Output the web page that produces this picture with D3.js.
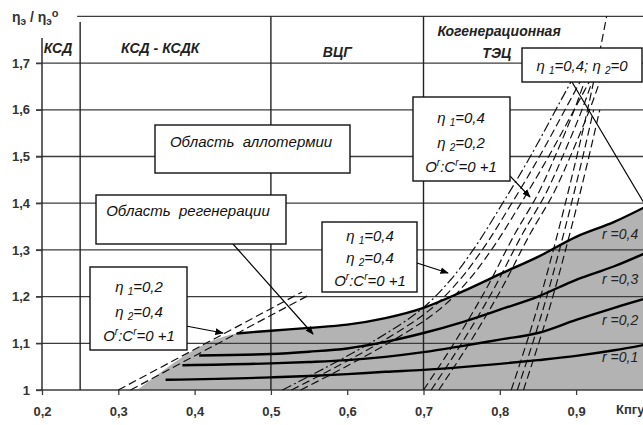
<!DOCTYPE html>
<html><head><meta charset="utf-8">
<script src="https://cdn.jsdelivr.net/npm/d3@7"></script>
<style>
html,body{margin:0;padding:0;background:#fff;}
svg{display:block;font-family:"Liberation Sans",Arial,sans-serif;}
.pre{white-space:pre;}
</style></head><body>
<svg id="chart" width="643" height="425"></svg>
<script>
// Axis ticks
const xTicks = [0.2, 0.3, 0.4, 0.5, 0.6, 0.7, 0.8, 0.9];
const yTicks = [1, 1.1, 1.2, 1.3, 1.4, 1.5, 1.6, 1.7];

// Plant-type zones along Kpgu
const zoneBounds = [0.25, 0.5, 0.7];
const zoneNames = ["КСД", "КСД - КСДК", "ВЦГ", "Когенерационная", "ТЭЦ"];
const zoneNameX = [0.221, 0.355, 0.587, 0.799, 0.796];
const zoneNameY = [1.722, 1.722, 1.713, 1.758, 1.711];

// r-curves: first point of each curve (on the regeneration boundary), then a common Kpgu grid
const rNames = ["r =0,1", "r =0,2", "r =0,3", "r =0,4"];
const rStartX = [0.362, 0.384, 0.406, 0.455];
const rStartY = [1.022, 1.053, 1.074, 1.121];
const kpgu = [0.5, 0.55, 0.6, 0.65, 0.7, 0.75, 0.8, 0.85, 0.9, 0.95, 1.0];
const r01 = [1.027, 1.030, 1.034, 1.039, 1.043, 1.049, 1.056, 1.064, 1.073, 1.085, 1.100];
const r02 = [1.057, 1.060, 1.064, 1.071, 1.081, 1.094, 1.108, 1.122, 1.150, 1.176, 1.200];
const r03 = [1.077, 1.082, 1.089, 1.103, 1.122, 1.145, 1.172, 1.200, 1.236, 1.265, 1.300];
const r04 = [1.127, 1.133, 1.140, 1.154, 1.176, 1.210, 1.248, 1.285, 1.328, 1.360, 1.400];
const rSeries = [r01, r02, r03, r04];
const rLabelY = [1.071, 1.150, 1.237, 1.335];

// Lower corner of the regeneration area
const regionFootX = 0.325;

// Dashed boundaries (Kpgu, ηэ/ηэ°) for the η1/η2 combinations
// η1=0,2; η2=0,4
const dashA1 = [[0.300, 1.0], [0.541, 1.210]];
const dashA2 = [[0.316, 1.0], [0.552, 1.205]];
// η1=0,4; η2=0,4
const dashB = [[0.515, 1.0], [0.580, 1.055], [0.640, 1.110], [0.695, 1.170], [0.735, 1.235],
               [0.765, 1.300], [0.800, 1.390], [0.840, 1.500], [0.880, 1.620], [0.900, 1.680]];
const dashBShift = [0, 0.012, 0.024];
// η1=0,4; η2=0,2
const dashC = [[0.700, 1.0], [0.740, 1.100], [0.780, 1.210], [0.820, 1.335], [0.850, 1.420],
               [0.875, 1.510], [0.900, 1.610], [0.915, 1.680]];
const dashCShift = [0, 0.010, 0.020];
// η1=0,4; η2=0
const dashD = [[0.815, 1.0], [0.850, 1.180], [0.875, 1.330], [0.895, 1.460], [0.915, 1.600],
               [0.928, 1.700], [0.940, 1.800]];
const dashDShift = [0, 0.008, 0.016];
const dashDTop = [1.8, 1.68, 1.68];

const W = 643, H = 425;
const svg = d3.select("#chart");
const x = d3.scaleLinear().domain([0.2, 1.0]).range([42, 652.4]);
const y = d3.scaleLinear().domain([1.0, 1.8]).range([390, 16.4]);

const loc = d3.formatLocale({decimal: ",", thousands: " ", grouping: [3], currency: ["", ""]});
const f1 = loc.format(".1f");

// Regeneration area
const areaPts = [[regionFootX, 1.0], [rStartX[3], rStartY[3]]].concat(kpgu.map((k, i) => [k, r04[i]]));
svg.append("path")
  .attr("d", d3.area().x(d => x(d[0])).y0(y(1)).y1(d => y(d[1])).curve(d3.curveMonotoneX)(areaPts))
  .attr("fill", "#b3b3b3");

// Horizontal grid
const grid = svg.append("g").attr("stroke", "#3c3c3c").attr("stroke-width", 1.3);
yTicks.forEach(v => {
  grid.append("line").attr("x1", x(0.2) - 6).attr("x2", W + 10).attr("y1", y(v)).attr("y2", y(v));
});
grid.append("line").attr("x1", x(0.25) - 3).attr("x2", W + 10).attr("y1", y(1.8)).attr("y2", y(1.8));

// Zone separators and y axis line
const vlines = svg.append("g").attr("stroke", "#222").attr("stroke-width", 1.4);
vlines.append("line").attr("x1", x(0.2)).attr("x2", x(0.2)).attr("y1", 38).attr("y2", y(1));
vlines.append("line").attr("x1", x(zoneBounds[0])).attr("x2", x(zoneBounds[0])).attr("y1", 22).attr("y2", y(1));
vlines.append("line").attr("x1", x(zoneBounds[1])).attr("x2", x(zoneBounds[1])).attr("y1", y(1.8)).attr("y2", y(1));
vlines.append("line").attr("x1", x(zoneBounds[2])).attr("x2", x(zoneBounds[2])).attr("y1", y(1.8)).attr("y2", y(1));

// Axes
const yAxis = d3.axisLeft(y).tickValues(yTicks).tickSize(6).tickPadding(6)
  .tickFormat(v => v === 1 ? "1" : f1(v));
const gy = svg.append("g").attr("transform", `translate(${x(0.2)},0)`).call(yAxis);
gy.select(".domain").remove();
gy.selectAll("line").attr("stroke", "#3c3c3c").attr("stroke-width", 1.3);
gy.selectAll("text").attr("font-size", 13).attr("font-weight", "bold").attr("fill", "#333");

const xAxis = d3.axisBottom(x).tickValues(xTicks).tickSize(5).tickPadding(12).tickFormat(f1);
const gx = svg.append("g").attr("transform", `translate(0,${y(1)})`).call(xAxis);
gx.select(".domain").remove();
gx.selectAll("line").attr("stroke", "#3c3c3c").attr("stroke-width", 1.3);
gx.selectAll("text").attr("font-size", 13).attr("font-weight", "bold").attr("fill", "#333");
svg.append("text").attr("x", 616).attr("y", 414).attr("font-size", 13).attr("font-weight", "bold")
  .attr("fill", "#333").text("Кпгу");

// Y title  ηэ / ηэ°
const yt = svg.append("text").attr("x", 12).attr("y", 22).attr("font-size", 14)
  .attr("font-weight", "bold").attr("fill", "#333");
yt.append("tspan").text("η");
yt.append("tspan").attr("font-size", 10).attr("dy", 3).text("э");
yt.append("tspan").attr("dy", -3).text(" / η");
yt.append("tspan").attr("font-size", 10).attr("dy", 3).text("э");
yt.append("tspan").attr("dy", -8).attr("font-size", 11).text("o");

// Zone names
svg.append("g").selectAll("text").data(zoneNames).join("text")
  .attr("x", (d, i) => x(zoneNameX[i])).attr("y", (d, i) => y(zoneNameY[i]))
  .attr("text-anchor", "middle").attr("font-size", 14).attr("font-style", "italic")
  .attr("font-weight", "bold").attr("fill", "#222").text(d => d);

// Dashed boundaries
const line = d3.line().x(d => x(d[0])).y(d => y(d[1])).curve(d3.curveMonotoneX);
const lineY = d3.line().x(d => x(d[0])).y(d => y(d[1])).curve(d3.curveMonotoneY);
const dashG = svg.append("g").attr("fill", "none").attr("stroke", "#111").attr("stroke-width", 1.2)
  .attr("stroke-dasharray", "8,4");
[dashA1, dashA2].forEach(p => dashG.append("path").attr("d", line(p)));
dashBShift.forEach((s, i) => {
  const p = dashG.append("path").attr("d", lineY(dashB.map(q => [q[0] + s, q[1]])));
  if (i === 0) p.attr("stroke-dasharray", "10,3,2,3");
});
dashCShift.forEach(s => dashG.append("path").attr("d", lineY(dashC.map(q => [q[0] + s, q[1]]))));
dashDShift.forEach((s, i) => dashG.append("path")
  .attr("d", lineY(dashD.filter(q => q[1] <= dashDTop[i] + 1e-9).map(q => [q[0] + s, q[1]]))));

// r curves
const rG = svg.append("g").attr("fill", "none").attr("stroke", "#000").attr("stroke-width", 2.4);
rSeries.forEach((s, i) => {
  const pts = [[rStartX[i], rStartY[i]]].concat(kpgu.map((k, j) => [k, s[j]]));
  rG.append("path").attr("d", line(pts));
});
svg.append("g").selectAll("text").data(rNames).join("text").attr("class", "pre")
  .attr("x", 602).attr("y", (d, i) => y(rLabelY[i]) + 5)
  .attr("font-size", 14).attr("font-style", "italic").attr("fill", "#222").text(d => d);

// Arrow marker
const defs = svg.append("defs");
defs.append("marker").attr("id", "ah").attr("viewBox", "0 0 10 10").attr("refX", 9).attr("refY", 5)
  .attr("markerWidth", 7).attr("markerHeight", 7).attr("orient", "auto")
  .append("path").attr("d", "M0,1L10,5L0,9Z").attr("fill", "#000");

function arrow(x1, y1, x2, y2, head) {
  const l = svg.append("line").attr("x1", x1).attr("y1", y1).attr("x2", x2).attr("y2", y2)
    .attr("stroke", "#000").attr("stroke-width", 1.2);
  if (head) l.attr("marker-end", "url(#ah)");
}

// Boxes
const FS = 15, SUB = 10;
function box(x0, y0, w, h) {
  svg.append("rect").attr("x", x0).attr("y", y0).attr("width", w).attr("height", h)
    .attr("fill", "#fff").attr("stroke", "#111").attr("stroke-width", 1.4);
}
function txt(cx, cy) {
  return svg.append("text").attr("class", "pre").attr("x", cx).attr("y", cy).attr("text-anchor", "middle")
    .attr("font-size", FS).attr("font-style", "italic").attr("fill", "#111");
}
function etaText(cx, cy, idx, val) {
  const t = txt(cx, cy);
  t.append("tspan").text("η ");
  t.append("tspan").attr("font-size", SUB).attr("dy", 3).text(idx);
  t.append("tspan").attr("dy", -3).text("=" + val);
}
function ocText(cx, cy) {
  const t = txt(cx, cy);
  t.append("tspan").text("O");
  t.append("tspan").attr("font-size", SUB).attr("dy", -6).text("r");
  t.append("tspan").attr("dy", 6).text(":C");
  t.append("tspan").attr("font-size", SUB).attr("dy", -6).text("r");
  t.append("tspan").attr("dy", 6).text("=0 +1");
}

// Arrows drawn under boxes
arrow(233, 244, 313, 334, true);
arrow(186, 326, 223, 333, true);
arrow(417, 263, 448, 273, true);
arrow(508, 174, 530, 197, true);
arrow(572, 82, 660, 230, false);

box(155, 125, 195, 48);
txt(251, 147).text("Область  аллотермии");
box(96, 195, 190, 49);
txt(188, 216).text("Область  регенерации");
box(90, 267, 97, 83);
etaText(139, 292, "1", "0,2"); etaText(139, 317, "2", "0,4"); ocText(139, 341);
box(322, 222, 95, 70);
etaText(370, 241, "1", "0,4"); etaText(370, 263, "2", "0,4"); ocText(370, 286);
box(413, 97, 97, 84);
etaText(461, 123, "1", "0,4"); etaText(461, 148, "2", "0,2"); ocText(461, 172);
box(522, 48, 120, 34);
(function () {
  const t = txt(582, 71);
  t.append("tspan").text("η ");
  t.append("tspan").attr("font-size", SUB).attr("dy", 3).text("1");
  t.append("tspan").attr("dy", -3).text("=0,4; η ");
  t.append("tspan").attr("font-size", SUB).attr("dy", 3).text("2");
  t.append("tspan").attr("dy", -3).text("=0");
})();
</script>
</body></html>
